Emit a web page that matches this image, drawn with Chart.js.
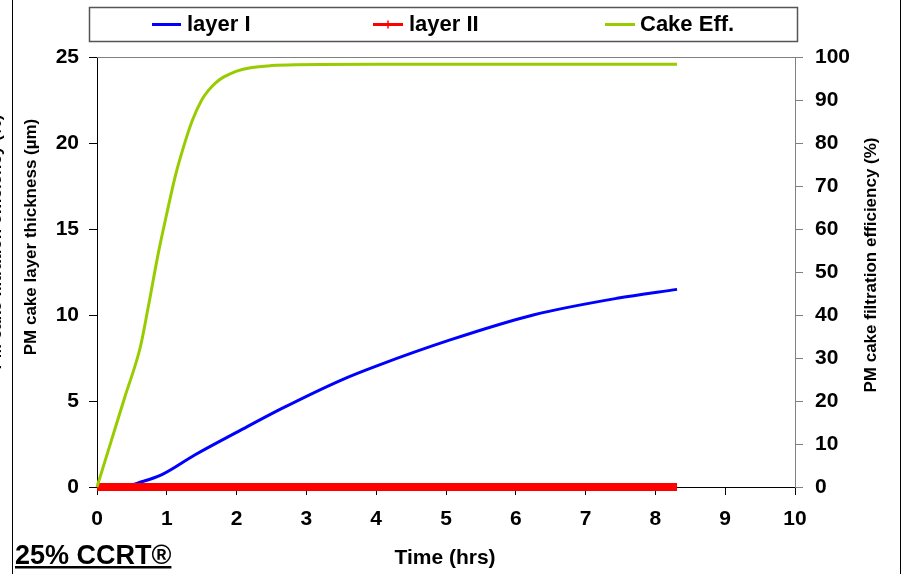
<!DOCTYPE html>
<html>
<head>
<meta charset="utf-8">
<script src="https://cdn.jsdelivr.net/npm/chart.js@4.4.1/dist/chart.umd.min.js"></script>
<style>
  html, body { margin: 0; padding: 0; background: #fff; }
  #wrap { width: 903px; height: 574px; position: relative; }
</style>
</head>
<body>
<div id="wrap"><canvas id="cakeChart"></canvas></div>
<script>
// layer I thickness (um) vs time (hrs)
const layer1Time  = [0, 0.38, 0.6, 0.93, 1.4, 2.02, 2.65, 3.5, 4.0, 5.06, 6.25, 7.45, 8.31];
const layer1Value = [0, 0, 0.25, 0.72, 1.86, 3.22, 4.57, 6.22, 7.03, 8.55, 10.0, 10.97, 11.49];

// layer II stays at zero the whole run
const layer2Time  = [0, 1, 2, 3, 4, 5, 6, 7, 8, 8.31];
const layer2Value = [0, 0, 0, 0, 0, 0, 0, 0, 0, 0];

// cake filtration efficiency (%) on the right axis
const effTime  = [0, 0.2, 0.4, 0.62, 0.73, 0.88, 1.0, 1.12, 1.24, 1.36, 1.5, 1.6, 1.7, 1.8, 1.9, 2.0, 2.2, 2.5, 2.84, 4, 6, 8.31];
const effValue = [0, 10.5, 21, 32.5, 41.5, 54.5, 63.6, 72.2, 79.1, 85.0, 90.0, 92.3, 94.0, 95.2, 96.0, 96.7, 97.5, 98.0, 98.2, 98.3, 98.3, 98.3];

const xTicks  = [0, 1, 2, 3, 4, 5, 6, 7, 8, 9, 10];
const yTicks  = [0, 5, 10, 15, 20, 25];
const y1Ticks = [0, 10, 20, 30, 40, 50, 60, 70, 80, 90, 100];

const seriesNames = ['layer I', 'layer II', 'Cake Eff.'];
const seriesColors = ['#0000ff', '#ff0000', '#99cc00'];

function toPoints(xs, ys) {
  return xs.map((x, i) => ({ x: x, y: ys[i] }));
}

const FONT = "'Liberation Sans', Arial, sans-serif";

// frame, titles and the boxed legend
const decorations = {
  id: 'decorations',
  afterDraw(chart) {
    const ctx = chart.ctx;
    const area = chart.chartArea;
    ctx.save();

    // outer frame lines
    ctx.strokeStyle = '#000';
    ctx.lineWidth = 1;
    ctx.beginPath();
    ctx.moveTo(12.5, 0); ctx.lineTo(12.5, 574);
    ctx.moveTo(900.5, 0); ctx.lineTo(900.5, 574);
    ctx.stroke();

    // top edge of the plot
    ctx.strokeStyle = '#808080';
    ctx.beginPath();
    ctx.moveTo(area.left, area.top + 0.5);
    ctx.lineTo(area.right, area.top + 0.5);
    ctx.stroke();

    ctx.fillStyle = '#000';
    ctx.textAlign = 'center';
    ctx.textBaseline = 'middle';

    // left axis title
    ctx.font = 'bold 17px ' + FONT;
    ctx.save();
    ctx.translate(31, 237);
    ctx.rotate(-Math.PI / 2);
    ctx.fillText('PM cake layer thickness (µm)', 0, 0);
    ctx.restore();

    // title of the neighbouring panel, clipped at the edge
    ctx.save();
    ctx.translate(-4, 242);
    ctx.rotate(-Math.PI / 2);
    ctx.fillText('PM cake filtration efficiency (%)', 0, 0);
    ctx.restore();

    // right axis title
    ctx.save();
    ctx.translate(871, 265);
    ctx.rotate(-Math.PI / 2);
    ctx.fillText('PM cake filtration efficiency (%)', 0, 0);
    ctx.restore();

    // x axis title
    ctx.font = 'bold 21px ' + FONT;
    ctx.fillText('Time (hrs)', 445, 558);

    // case label, underlined
    ctx.font = 'bold 27px ' + FONT;
    ctx.textAlign = 'left';
    ctx.textBaseline = 'alphabetic';
    ctx.fillText('25% CCRT®', 15, 564);
    const w = ctx.measureText('25% CCRT®').width;
    ctx.fillRect(15, 566, w, 2.5);

    // legend box
    ctx.strokeStyle = '#555';
    ctx.lineWidth = 1.5;
    ctx.strokeRect(89.5, 7.5, 708, 34);

    const items = [
      { x1: 152, x2: 181, tx: 187 },
      { x1: 373, x2: 403, tx: 409 },
      { x1: 605, x2: 635, tx: 640 }
    ];
    ctx.font = 'bold 22px ' + FONT;
    ctx.textBaseline = 'middle';
    items.forEach((it, i) => {
      ctx.strokeStyle = seriesColors[i];
      ctx.lineWidth = 3;
      ctx.beginPath();
      ctx.moveTo(it.x1, 24.5); ctx.lineTo(it.x2, 24.5);
      ctx.stroke();
      if (i === 1) {
        ctx.lineWidth = 1.5;
        ctx.beginPath();
        ctx.moveTo(388, 20.5); ctx.lineTo(388, 28.5);
        ctx.stroke();
      }
      ctx.fillStyle = '#000';
      ctx.fillText(seriesNames[i], it.tx, 25);
    });

    ctx.restore();
  }
};

new Chart(document.getElementById('cakeChart'), {
  type: 'scatter',
  data: {
    datasets: [
      {
        label: seriesNames[0],
        data: toPoints(layer1Time, layer1Value),
        yAxisID: 'y',
        borderColor: seriesColors[0],
        borderWidth: 3,
        showLine: true,
        pointRadius: 0,
        cubicInterpolationMode: 'monotone',
        order: 2
      },
      {
        label: seriesNames[1],
        data: toPoints(layer2Time, layer2Value),
        yAxisID: 'y',
        borderColor: seriesColors[1],
        borderWidth: 8,
        showLine: true,
        pointRadius: 0,
        clip: false,
        order: 1
      },
      {
        label: seriesNames[2],
        data: toPoints(effTime, effValue),
        yAxisID: 'y1',
        borderColor: seriesColors[2],
        borderWidth: 3,
        showLine: true,
        pointRadius: 0,
        cubicInterpolationMode: 'monotone',
        clip: 4,
        order: 0
      }
    ]
  },
  options: {
    responsive: true,
    maintainAspectRatio: false,
    animation: false,
    layout: { padding: { top: 57, left: 0, right: 0, bottom: 0 } },
    plugins: {
      legend: { display: false },
      tooltip: { enabled: false }
    },
    scales: {
      x: {
        type: 'linear',
        min: 0,
        max: 10,
        afterBuildTicks: (scale) => { scale.ticks = xTicks.map(v => ({ value: v })); },
        afterFit: (scale) => { scale.height = 87; },
        ticks: { color: '#000', font: { family: FONT, size: 21, weight: 'bold' }, padding: 12, maxRotation: 0 },
        grid: { drawOnChartArea: false, tickLength: 8, color: '#000' },
        border: { color: '#000', width: 1 }
      },
      y: {
        position: 'left',
        min: 0,
        max: 25,
        afterBuildTicks: (scale) => { scale.ticks = yTicks.map(v => ({ value: v })); },
        afterFit: (scale) => { scale.width = 97; },
        ticks: { color: '#000', font: { family: FONT, size: 21, weight: 'bold' }, padding: 10 },
        grid: { drawOnChartArea: false, tickLength: 8, color: '#000' },
        border: { color: '#000', width: 1 }
      },
      y1: {
        position: 'right',
        min: 0,
        max: 100,
        afterBuildTicks: (scale) => { scale.ticks = y1Ticks.map(v => ({ value: v })); },
        afterFit: (scale) => { scale.width = 108; },
        ticks: { color: '#000', font: { family: FONT, size: 21, weight: 'bold' }, padding: 12 },
        grid: { drawOnChartArea: false, tickLength: 8, color: '#808080' },
        border: { color: '#808080', width: 1 }
      }
    }
  },
  plugins: [decorations]
});
</script>
</body>
</html>
